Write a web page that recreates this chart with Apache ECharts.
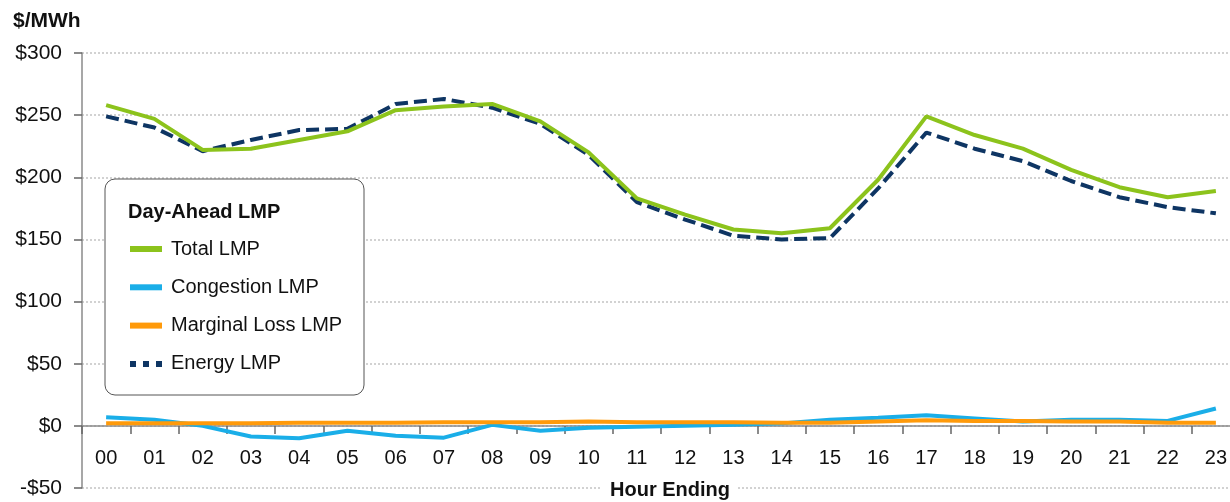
<!DOCTYPE html>
<html>
<head>
<meta charset="utf-8">
<script src="https://cdn.jsdelivr.net/npm/echarts@6/dist/echarts.min.js"></script>
<style>
  html, body { margin: 0; padding: 0; background: #fff; }
  #chart { width: 1230px; height: 502px; }
</style>
</head>
<body>
<div id="chart"></div>
<script>
const hours = ['00','01','02','03','04','05','06','07','08','09','10','11','12','13','14','15','16','17','18','19','20','21','22','23'];
const totalLMP      = [258, 247, 222, 223, 230, 237, 254, 257, 259, 245, 220, 183, 170, 158, 155, 159, 198, 249, 234, 223, 206, 192, 184, 189];
const congestionLMP = [7, 5, 0, -8.5, -10, -4, -8, -9.5, 0.8, -4, -1.6, -0.8, 0, 0.8, 2, 5, 6.5, 8.5, 6, 3.5, 5, 5, 4, 14];
const lossLMP       = [2, 2, 2, 2, 2.5, 2.5, 2.5, 3, 3, 3, 3.5, 3, 3, 3, 2.5, 2.5, 3.5, 4.5, 4, 4, 3.5, 3.5, 2.5, 2.5];
const energyLMP     = [249, 240, 221, 230, 238, 239, 259, 263, 256, 243, 218, 180, 166, 153, 150, 151, 191, 236, 223, 213, 197, 184, 176, 171];
const yTicks = {min: -50, max: 300, interval: 50};

const FONT = 'Liberation Sans, Arial, sans-serif';
const chart = echarts.init(document.getElementById('chart'), null, {renderer: 'canvas'});

const fmt = v => (v < 0 ? '-$' + Math.abs(v) : '$' + v);

// grid 0: full value range (-50..300); grid 1: 0..300 so its bottom edge is the $0 line
chart.setOption({
  animation: false,
  backgroundColor: '#ffffff',
  textStyle: {fontFamily: FONT},
  grid: [
    {left: 82, top: 53, width: 1158, height: 435, containLabel: false, outerBoundsMode: 'none'},
    {left: 82, top: 53, width: 1158, height: 373, containLabel: false, outerBoundsMode: 'none'}
  ],
  xAxis: [
    {
      gridIndex: 0, type: 'category', data: hours, boundaryGap: true,
      axisLine: {show: false}, axisTick: {show: false}, axisLabel: {show: false}, splitLine: {show: false}
    },
    {
      gridIndex: 1, type: 'category', data: hours, boundaryGap: true, position: 'bottom',
      axisLine: {show: true, onZero: false, lineStyle: {color: '#8a8a8a', width: 1.5}},
      axisTick: {show: true, length: 8, alignWithLabel: false, lineStyle: {color: '#666', width: 1.5}},
      axisLabel: {fontSize: 20, color: '#111', margin: 22, fontFamily: FONT},
      splitLine: {show: false}
    }
  ],
  yAxis: [
    {
      gridIndex: 0, type: 'value',
      min: yTicks.min, max: yTicks.max, interval: yTicks.interval,
      axisLine: {show: true, onZero: false, lineStyle: {color: '#8a8a8a', width: 1.5}},
      axisTick: {show: true, length: 8, lineStyle: {color: '#666', width: 1.5}},
      axisLabel: {fontSize: 21, color: '#111', margin: 20, formatter: fmt, fontFamily: FONT},
      splitLine: {show: true, lineStyle: {color: '#c4c4c4', width: 1.5, type: [2, 2]}}
    },
    {
      gridIndex: 1, type: 'value', min: 0, max: yTicks.max, interval: yTicks.interval, show: false,
      splitLine: {show: false}
    }
  ],
  legend: {
    orient: 'vertical',
    left: 130,
    top: 237,
    padding: 0,
    itemGap: 14.3,
    itemWidth: 32,
    itemHeight: 6,
    z: 6,
    textStyle: {fontSize: 20, color: '#111', lineHeight: 24, padding: [0, 0, 0, 4], fontFamily: FONT},
    selectedMode: false,
    data: [
      {name: 'Total LMP', icon: 'rect'},
      {name: 'Congestion LMP', icon: 'rect'},
      {name: 'Marginal Loss LMP', icon: 'rect'},
      {name: 'Energy LMP', icon: 'path://M0,0h6v6h-6z M13,0h6v6h-6z M26,0h6v6h-6z'}
    ]
  },
  graphic: [
    {type: 'rect', z: 5, shape: {x: 105, y: 179, width: 259, height: 216, r: 10},
     style: {fill: '#ffffff', stroke: '#555', lineWidth: 1}},
    {type: 'text', z: 7, left: 128, top: 202,
     style: {text: 'Day-Ahead LMP', fontSize: 20, fontWeight: 'bold', fill: '#111', fontFamily: FONT}},
    {type: 'text', z: 7, left: 13, top: 11,
     style: {text: '$/MWh', fontSize: 21, fontWeight: 'bold', fill: '#111', fontFamily: FONT}},
    {type: 'text', z: 7, x: 670, y: 490,
     style: {text: 'Hour Ending', fontSize: 20, fontWeight: 'bold', fill: '#111', fontFamily: FONT,
             align: 'center', verticalAlign: 'middle', backgroundColor: '#ffffff', padding: [0, 8]}}
  ],
  series: [
    {name: 'Total LMP', type: 'line', data: totalLMP, symbol: 'none', z: 3,
     lineStyle: {color: '#8CC31C', width: 4}, itemStyle: {color: '#8CC31C'}},
    {name: 'Congestion LMP', type: 'line', data: congestionLMP, symbol: 'none', z: 3,
     lineStyle: {color: '#1AAEE8', width: 4}, itemStyle: {color: '#1AAEE8'}},
    {name: 'Marginal Loss LMP', type: 'line', data: lossLMP, symbol: 'none', z: 4,
     lineStyle: {color: '#FF9A0A', width: 4}, itemStyle: {color: '#FF9A0A'}},
    {name: 'Energy LMP', type: 'line', data: energyLMP, symbol: 'none', z: 2,
     lineStyle: {color: '#0E3563', width: 4, type: [13, 6]}, itemStyle: {color: '#0E3563'}}
  ]
});
</script>
</body>
</html>
